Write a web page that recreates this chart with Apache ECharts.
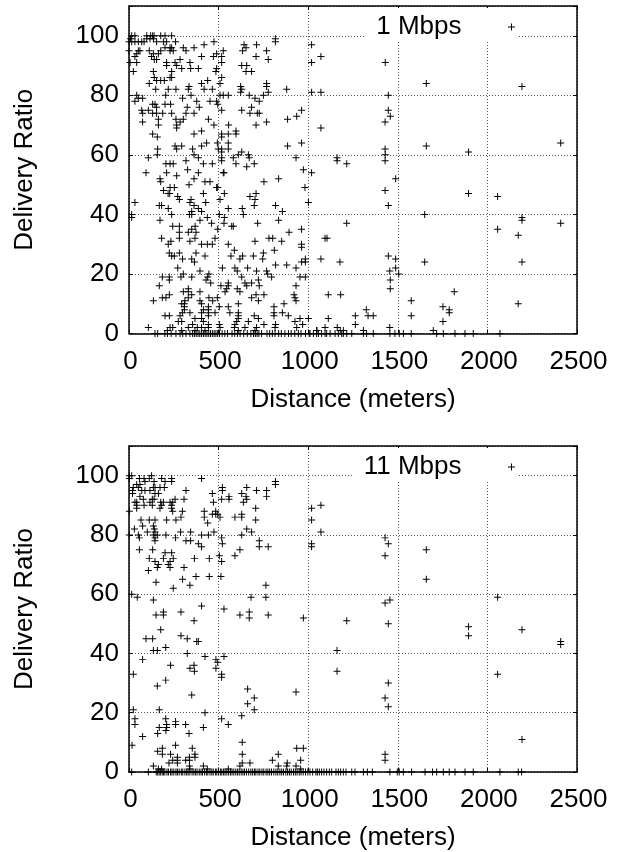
<!DOCTYPE html>
<html>
<head>
<meta charset="utf-8">
<script src="https://cdn.jsdelivr.net/npm/echarts@6/dist/echarts.min.js"></script>
<style>
html, body { margin: 0; padding: 0; background: #fff; }
#chart { width: 619px; height: 852px; }
</style>
</head>
<body>
<div id="chart"></div>
<script>
// [distance, delivery ratio]
const points1Mbps = [
[15,100],[33,100],[9,99],[0,98],[15,98],[33,98],[52,98],[71,98],[84,98],[99,100],[121,100],[132,100],[140,100],[99,99],[117,99],[136,99],[177,100],[201,100],[238,100],[192,98],[154,98],[210,98],[260,98],
[0,95],[52,95],[61,95],[43,94],[33,93],[6,91],[43,91],[24,88],[113,95],[136,94],[126,93],[141,92],[154,92],[164,94],[177,95],[201,96],[229,96],[238,96],[229,95],[247,95],[303,96],[318,95],[363,96],[419,97],[474,98],[526,95],[489,94],[471,93],[405,93],[340,91],[285,92],[257,91],[210,91],[210,90],[266,90],[294,89],[344,89],[387,89],[489,89],[485,88],[238,88],[229,86],[136,88],[141,86],[154,85],[177,85],[197,85],[113,84],[238,86],[517,93],[517,91],[642,97],[634,95],[712,97],[653,96],[768,95],[709,93],[777,92],[629,90],[657,90],[653,88],[684,88],[817,99],[817,98],
[439,85],[405,84],[517,86],[768,84],[768,83],[149,82],[219,82],[262,82],[335,83],[331,82],[419,82],[465,82],[508,84],[623,83],[629,82],[623,81],[777,81],[880,82],[43,80],[76,79],[33,78],[52,79],[205,80],[299,79],[346,80],[378,78],[452,78],[508,80],[526,80],[554,80],[489,78],[495,77],[671,80],[703,79],[727,78],[750,80],
[132,77],[145,77],[154,76],[232,77],[201,77],[71,75],[108,75],[76,74],[132,74],[154,74],[188,74],[238,74],[392,76],[325,76],[363,74],[318,74],[517,75],[629,75],[684,76],[675,74],[716,74],[727,74],[164,72],[303,72],[262,72],[443,72],[285,71],[76,71],[164,70],[266,70],[266,69],[474,70],[556,70],[709,70],[768,71],[885,72],[936,73],[963,75],[405,68],[363,67],[132,67],[158,66],[517,67],[554,67],[597,68],[597,67],[517,66],
[160,62],[257,63],[266,62],[294,63],[405,63],[433,64],[493,64],[554,64],[554,62],[498,62],[517,62],[517,61],[885,63],[963,64],[355,62],[363,60],[158,60],[108,59],[387,59],[517,59],[582,59],[629,61],[610,60],[666,60],[671,59],[932,59],[206,57],[229,57],[247,57],[318,58],[415,57],[465,57],[517,58],[597,57],[657,56],[699,57],[327,55],[973,55],
[95,54],[173,52],[177,51],[210,54],[266,53],[387,54],[363,52],[335,50],[424,51],[452,51],[526,54],[530,54],[489,49],[495,49],[753,51],[835,52],[982,49],[229,49],[253,49],[192,48],[218,47],[227,47],[415,47],[532,47],[709,47],[675,46],[703,45],[272,46],[281,45],[346,45],[508,45],[699,43],[33,44],[169,43],[182,43],[219,42],[340,44],[363,43],[428,44],[387,42],[405,41],[554,42],[632,42],[818,43],[856,41],[1001,44],
[15,40],[15,39],[238,40],[350,41],[350,40],[337,40],[504,40],[638,40],[437,39],[532,39],[173,38],[396,38],[461,37],[718,37],[835,38],[244,36],[281,36],[369,36],[530,37],[573,36],[582,36],[495,35],[350,35],[963,35],[893,34],[281,34],[331,34],[374,34],[480,32],[281,32],[182,32],[234,31],[340,31],[368,32],[219,30],[405,30],[437,30],[465,30],[554,30],[703,31],[781,32],[802,32],[852,31],[963,30],[963,29],
[588,28],[750,27],[811,28],[225,27],[281,27],[374,27],[238,26],[253,26],[299,25],[350,25],[365,24],[424,26],[569,26],[634,26],[619,25],[694,26],[746,25],[984,25],[963,24],[984,24],[818,23],[880,23],[932,22],[272,22],[396,21],[521,22],[591,22],[604,21],[662,22],[712,21],[768,21],[774,20],[446,20],[303,20],
[186,19],[225,19],[290,19],[350,19],[439,19],[225,18],[430,18],[629,19],[722,18],[796,19],[954,19],[984,19],[456,17],[554,17],[647,17],[684,17],[169,16],[513,16],[554,16],[657,16],[727,16],[932,16],[331,15],[225,13],[545,15],[536,14],[604,15],[619,14],[303,14],[331,14],[396,14],[186,12],[206,12],[350,13],[331,12],[446,12],[493,12],[709,13],[753,13],[684,12],[722,11],[921,13],[926,12],[932,11],[136,11],
[294,10],[312,11],[309,10],[396,11],[405,10],[467,11],[610,10],[865,10],[309,9],[504,9],[554,9],[809,9],[415,8],[443,9],[443,8],[309,8],[298,7],[340,7],[405,7],[443,7],[480,7],[563,7],[610,7],[809,7],[856,7],[201,6],[225,6],[285,6],[443,6],[610,6],[699,6],[889,6],[722,5],[809,6],[1001,5],[954,5],[368,5],[405,5],[610,5],[275,4],[294,4],[415,4],[443,3],[601,4],[666,4],[926,4],[355,3],[591,3],[504,3],[753,3],[818,3],[969,3],[108,2],[229,2],[244,2],[331,2],[381,2],[405,2],[443,2],[508,2],[588,2],[647,2],[712,2],[815,2],[936,2],[214,1],[294,1],[368,1],[424,1],[610,1],[703,1],[1047,1],
[1019,97],[1019,91],[1071,93],[1430,91],[1659,84],[2193,83],[1019,81],[1071,81],[1447,80],[1447,75],[1458,73],[1429,71],[1071,69],[1429,62],[1430,60],[1429,58],[1659,63],[2409,64],[1895,61],[1161,59],[1161,58],[1215,57],[1019,54],[1488,52],[1429,48],[1447,43],[1895,47],[2057,46],[1650,40],[2193,39],[2193,38],[1215,37],[2409,37],[2057,35],[2172,33],[1094,32],[1105,32],[1071,25],[1177,24],[1447,26],[1488,25],[1650,24],[2193,24],[1488,22],[1455,21],[1505,20],[1458,18],[1458,15],[1112,13],[1181,13],[1815,14],[1575,11],[2172,10],[1752,9],[1324,8],[1787,8],[1787,7],[1263,6],[1334,6],[1363,6],[1575,6],[1112,5],[1752,4],[1263,3],[1094,2],[1162,2],[1455,2],[1049,1],[1179,1],[1196,1],[1698,1],[1308,1]
];
// distances of the runs that sit on the zero line
const zeros1Mbps = [145,160,200,215,235,262,285,300,318,340,355,365,375,385,395,405,415,425,435,445,455,465,475,485,495,505,520,535,550,575,590,605,620,640,660,680,695,705,715,725,740,770,785,800,815,835,850,870,890,905,925,945,960,985,1005,1010,1029,1047,1057,1075,1094,1103,1122,1150,1168,1187,1196,1215,1243,1308,1326,1363,1456,1484,1508,1531,1575,1717,1754,1819,1875,1921,2070];

const points11Mbps = [
[2,100],[15,100],[2,99],[58,99],[84,99],[126,100],[113,99],[140,98],[182,99],[201,98],[238,99],[238,98],[405,99],[89,98],[61,97],[43,97],[24,96],[52,96],[20,95],[20,94],[71,95],[89,95],[117,95],[136,96],[145,94],[164,94],[173,96],[197,96],[318,95],[145,96],[61,93],[80,92],[33,91],[43,91],[43,90],[84,90],[130,92],[140,92],[117,91],[130,90],[177,91],[192,91],[173,89],[182,90],[229,91],[244,91],[238,90],[257,92],[238,89],[244,88],[307,92],[298,88],[2,88],[43,89],
[465,94],[521,96],[521,95],[657,96],[629,94],[653,93],[657,92],[638,91],[712,95],[768,95],[768,93],[817,98],[817,97],[558,93],[558,92],[517,92],[471,91],[707,89],[420,88],[420,86],[465,87],[484,88],[484,87],[495,87],[508,86],[591,86],[629,87],[629,86],[707,85],[67,85],[113,85],[145,85],[210,85],[262,85],[290,86],[76,83],[136,83],[30,82],[141,82],[102,81],[145,81],[288,81],[344,81],[439,84],[657,82],[684,81],[474,81],
[2,80],[52,80],[58,79],[136,80],[158,80],[145,79],[206,80],[260,79],[405,80],[443,80],[629,80],[517,79],[318,78],[344,78],[145,78],[727,78],[387,77],[405,76],[521,77],[727,76],[777,76],[619,75],[58,75],[132,75],[201,74],[238,74],[591,73],[504,73],[113,72],[192,72],[247,72],[365,72],[448,72],[145,71],[229,71],[517,71],[164,70],[219,70],[229,69],[158,69],[108,68],[307,69],[299,65],[374,66],[448,66],[513,66],[151,64],[340,63],[247,62],[764,63],[15,60],[46,59],[136,58],[681,59],[764,59],[405,56],[530,55],[151,53],[192,54],[192,53],[290,54],[619,53],[671,54],[671,52],[777,53],[973,52],
[177,48],[95,45],[132,45],[290,46],[325,45],[363,51],[378,44],[387,44],[205,42],[136,41],[158,41],[325,40],[76,38],[424,39],[485,38],[495,37],[530,39],[232,36],[363,36],[340,35],[365,34],[485,35],[517,33],[517,32],[24,33],[205,31],[158,29],[662,28],[932,27],[350,26],[699,25],[662,23],[24,21],[169,21],[699,21],[424,20],[629,19],[33,18],[205,18],[517,18],[33,16],[260,17],[260,16],[210,16],[316,16],[554,16],[169,15],[210,15],[415,15],[206,14],[160,13],[335,13],[76,12],[632,10],[17,9],[260,9],[186,8],[353,8],[936,8],[973,8],[160,7],[186,6],[232,6],[368,6],[632,6],[833,6],[270,5],[368,5],[337,5],[244,4],[270,4],[316,4],[337,4],[800,4],[958,4],[223,3],[270,3],[632,3],[675,3],[883,3],[136,2],[337,2],[415,2],[619,2],[833,2],[880,2],[932,2],[164,1],[182,1],[340,1],[437,1],[554,1],[958,1],
[1071,90],[1019,89],[1019,85],[1071,81],[1019,77],[1019,76],[1429,79],[1447,77],[1429,73],[1659,75],[1659,65],[2057,59],[1429,57],[1456,58],[1215,51],[1447,50],[1895,49],[1895,46],[2193,48],[2409,44],[2409,43],[1161,41],[1161,34],[2057,33],[1447,30],[1429,25],[1447,22],[2193,11],[1429,6],[1429,4]
];
const zeros11Mbps = [15,108,152,160,168,175,185,192,200,212,220,232,240,250,262,270,280,292,300,312,322,330,340,352,362,372,380,392,402,410,422,432,440,452,462,470,482,490,500,510,518,528,536,546,556,566,575,585,596,606,615,626,636,645,656,668,680,690,700,708,720,730,742,752,765,775,785,795,808,820,830,842,852,862,875,885,895,905,918,928,938,950,960,972,985,998,1010,1025,1043,1051,1062,1075,1088,1103,1118,1131,1155,1168,1181,1196,1211,1243,1261,1308,1330,1358,1456,1497,1508,1531,1577,1652,1694,1717,1754,1787,1819,1875,1921,2070,2172,2191];

const xMax = 2500;
const xStep = 500;
const yMax = 110;
const yStep = 20;

const FONT = 'Liberation Sans';
const PLUS = 'path://M4.3,0H5.7V4.3H10V5.7H5.7V10H4.3V5.7H0V4.3H4.3Z';

function withZeros(points, zeros) {
    return points.concat(zeros.map(function(d) { return [d, 0]; }));
}

// gnuplot style frame: ticks point inwards on all four sides
function xAxisOf(gridIndex, mirror) {
    return {
        type: 'value',
        gridIndex: gridIndex,
        position: mirror ? 'top' : 'bottom',
        min: 0,
        max: xMax,
        interval: xStep,
        name: mirror ? '' : 'Distance (meters)',
        nameLocation: 'middle',
        nameGap: 53,
        nameTextStyle: { fontFamily: FONT, fontSize: 26, color: '#000' },
        axisLine: { show: true, onZero: false, lineStyle: { color: '#000', width: 1.5 } },
        axisTick: { show: true, inside: true, length: 4, lineStyle: { color: '#000', width: 1 } },
        axisLabel: {
            show: !mirror,
            fontFamily: FONT,
            fontSize: 26,
            color: '#000',
            margin: 15,
            padding: [0, 0, 0, 3],
            formatter: function(v) { return String(v); }
        },
        splitLine: { show: !mirror, lineStyle: { color: '#555', type: [1, 2], width: 1 } }
    };
}

function yAxisOf(gridIndex, mirror) {
    return {
        type: 'value',
        gridIndex: gridIndex,
        position: mirror ? 'right' : 'left',
        min: 0,
        max: yMax,
        interval: yStep,
        name: mirror ? '' : 'Delivery Ratio',
        nameLocation: 'middle',
        nameRotate: 90,
        nameGap: 91,
        nameTextStyle: { fontFamily: FONT, fontSize: 26, color: '#000' },
        axisLine: { show: true, onZero: false, lineStyle: { color: '#000', width: 1.5 } },
        axisTick: { show: true, inside: true, length: 4, lineStyle: { color: '#000', width: 1 } },
        axisLabel: {
            show: !mirror,
            fontFamily: FONT,
            fontSize: 26,
            color: '#000',
            margin: 10,
            padding: [3, 0, 0, 0],
            formatter: function(v) { return v > 100 ? '' : String(v); }
        },
        splitLine: { show: !mirror, lineStyle: { color: '#555', type: [1, 2], width: 1 } }
    };
}

function seriesOf(name, index, points, zeros) {
    return {
        name: name,
        type: 'scatter',
        xAxisIndex: index * 2,
        yAxisIndex: index * 2,
        symbol: PLUS,
        symbolSize: 7,
        clip: false,
        silent: true,
        itemStyle: { color: '#000', opacity: 1 },
        data: withZeros(points, zeros)
    };
}

function legendOf(name, top) {
    return {
        data: [name],
        right: 100,
        top: top,
        align: 'right',
        orient: 'horizontal',
        selectedMode: false,
        padding: [6, 4, 0, 11],
        backgroundColor: '#fff',
        itemWidth: 90,
        itemHeight: 7,
        itemGap: 0,
        textStyle: { fontFamily: FONT, fontSize: 26, color: '#000' }
    };
}

var myChart = echarts.init(document.getElementById('chart'), null, { renderer: 'canvas' });
myChart.setOption({
    animation: false,
    backgroundColor: '#fff',
    grid: [
        { left: 129, top: 6, width: 448, height: 327.5 },
        { left: 129, top: 446, width: 448, height: 327.5 }
    ],
    xAxis: [xAxisOf(0, false), xAxisOf(0, true), xAxisOf(1, false), xAxisOf(1, true)],
    yAxis: [yAxisOf(0, false), yAxisOf(0, true), yAxisOf(1, false), yAxisOf(1, true)],
    legend: [legendOf('1 Mbps', 8), legendOf('11 Mbps', 448)],
    series: [
        seriesOf('1 Mbps', 0, points1Mbps, zeros1Mbps),
        seriesOf('11 Mbps', 1, points11Mbps, zeros11Mbps)
    ]
});
</script>
</body>
</html>
